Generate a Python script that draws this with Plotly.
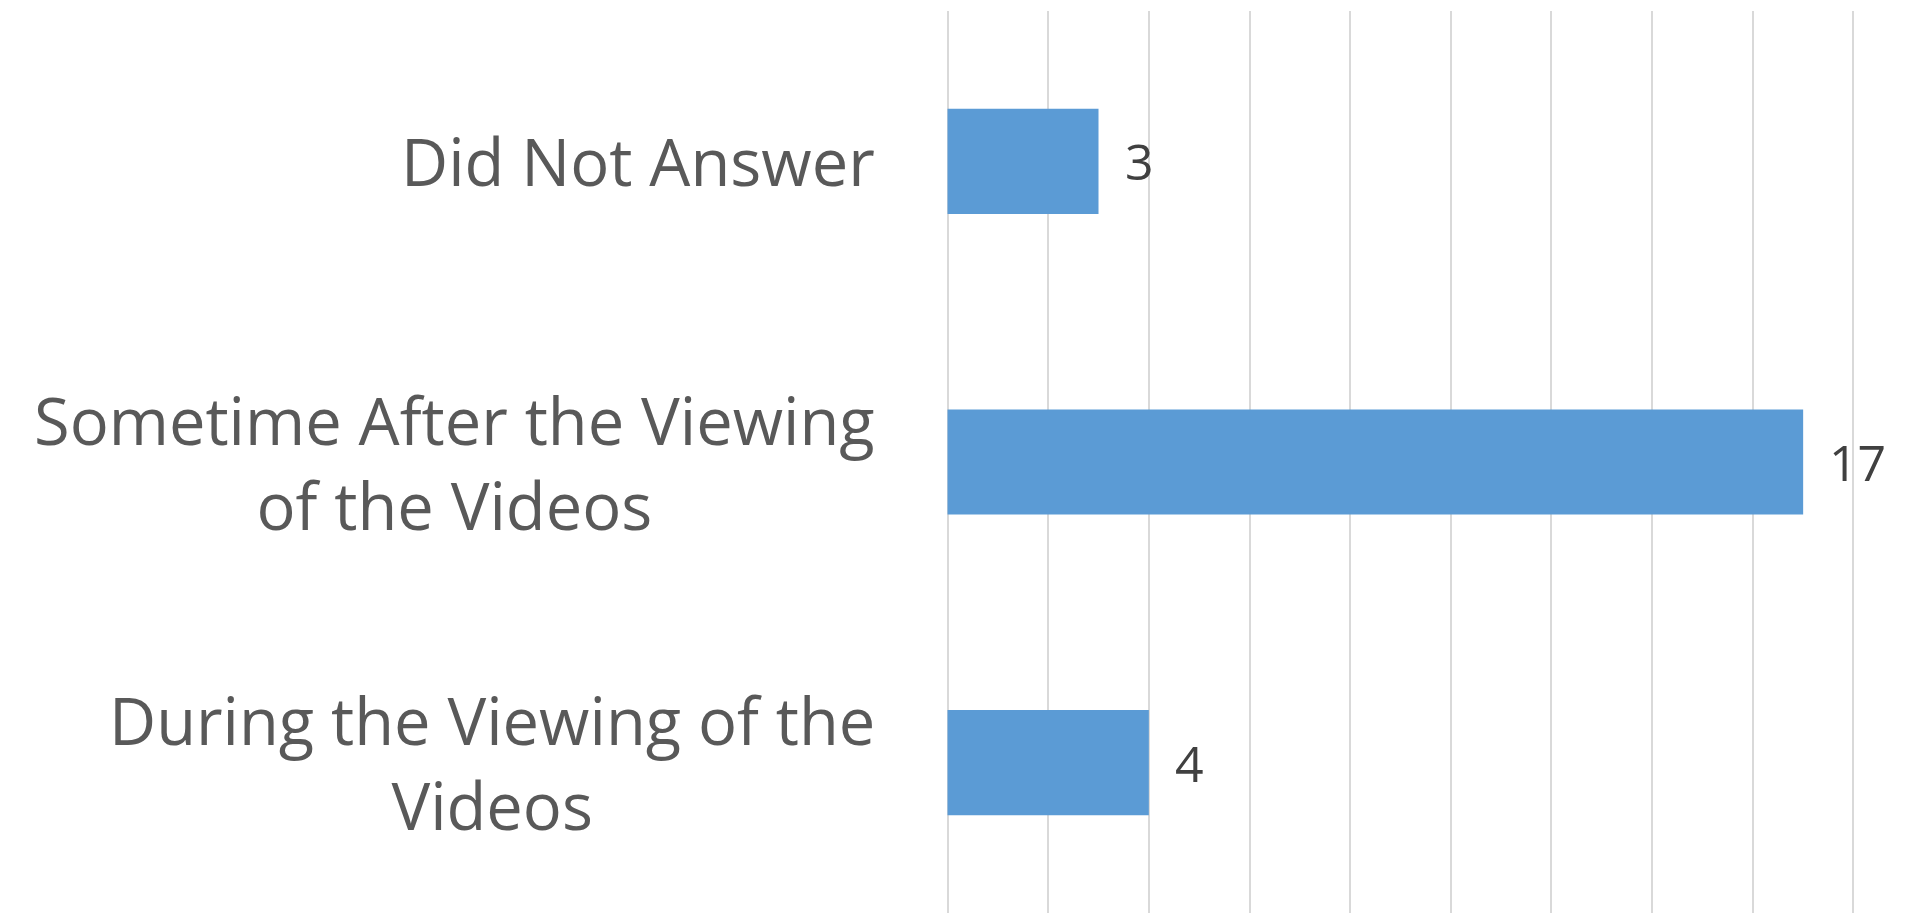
import plotly.graph_objects as go

categories = ["During the Viewing of the<br>Videos",
              "Sometime After the Viewing<br>of the Videos",
              "Did Not Answer"]
values = [4, 17, 3]
value_labels = ["4", "17", "3"]

BAR_COLOR = "#5B9BD5"
GRID_COLOR = "#D9D9D9"
LABEL_COLOR = "#595959"
VALUE_COLOR = "#404040"
FONT = "Open Sans"

fig = go.Figure()
fig.add_trace(go.Bar(
    x=values, y=categories, orientation="h",
    marker=dict(color=BAR_COLOR, line=dict(width=0)),
    width=0.35, hoverinfo="skip",
))

annotations = []
for cat, v, lab in zip(categories, values, value_labels):
    annotations.append(dict(
        x=v, y=cat, xref="x", yref="y", text=lab, showarrow=False,
        xanchor="left", yanchor="middle", xshift=24,
        font=dict(family=FONT, size=50, color=VALUE_COLOR),
    ))
    annotations.append(dict(
        x=0, y=cat, xref="paper", yref="y", text=cat, showarrow=False,
        xanchor="right", yanchor="middle", xshift=-68, align="center",
        font=dict(family=FONT, size=65, color=LABEL_COLOR),
    ))

unit = (1845 - 940) / 18.0
pad = 0.05
fig.update_layout(
    width=1909, height=913,
    margin=dict(l=940 - pad * unit, r=1909 - 1845 - pad * unit, t=3, b=8),
    plot_bgcolor="white", paper_bgcolor="white",
    showlegend=False,
    annotations=annotations,
    xaxis=dict(range=[-pad, 18 + pad], tickvals=list(range(0, 19, 2)),
               showgrid=True, gridcolor=GRID_COLOR,
               gridwidth=1.5, showticklabels=False, zeroline=False,
               showline=False, ticks=""),
    yaxis=dict(showticklabels=False, showgrid=False, zeroline=False,
               showline=False, ticks="", range=[-0.5, 2.5]),
)

fig.write_html("out.html")
